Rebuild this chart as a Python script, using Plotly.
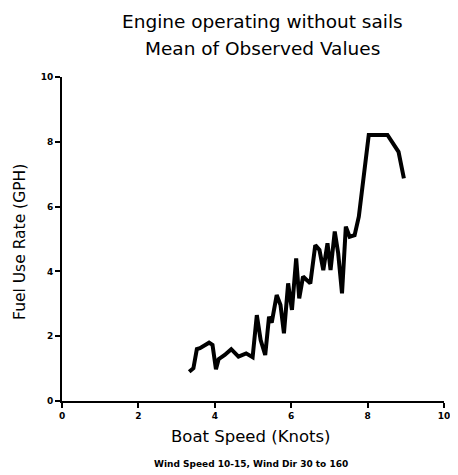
import plotly.graph_objects as go

boat_speed = [3.33, 3.44, 3.53, 3.61, 3.85, 3.94, 4.03, 4.10, 4.26, 4.43, 4.62, 4.82, 4.99,
              5.10, 5.20, 5.32, 5.42, 5.49, 5.62, 5.72, 5.81, 5.92, 5.98, 6.02, 6.13, 6.21,
              6.31, 6.50, 6.63, 6.74, 6.84, 6.95, 7.03, 7.14, 7.23, 7.33, 7.43, 7.53, 7.66,
              7.77, 8.03, 8.52, 8.81, 8.95]
fuel_rate = [0.90, 1.01, 1.60, 1.63, 1.80, 1.73, 0.98, 1.29, 1.42, 1.60, 1.37, 1.47, 1.35,
             2.65, 1.88, 1.42, 2.60, 2.42, 3.27, 2.96, 2.09, 3.63, 3.12, 2.81, 4.40, 3.17,
             3.84, 3.63, 4.81, 4.66, 4.04, 4.87, 4.04, 5.23, 4.56, 3.32, 5.38, 5.07, 5.12,
             5.69, 8.21, 8.21, 7.69, 6.87]
tick_vals = [0, 2, 4, 6, 8, 10]
tick_text = ["<b>0</b>", "<b>2</b>", "<b>4</b>", "<b>6</b>", "<b>8</b>", "<b>10</b>"]

font = "DejaVu Sans"

fig = go.Figure()
fig.add_trace(go.Scatter(x=boat_speed, y=fuel_rate, mode="lines",
                         line=dict(color="black", width=4), hoverinfo="skip"))

axis_common = dict(range=[0, 10], tickvals=tick_vals, ticktext=tick_text,
                   showgrid=False, zeroline=False, showline=True, linecolor="black",
                   linewidth=2, ticks="outside", ticklen=5, tickwidth=2, tickcolor="black",
                   tickfont=dict(size=9, family=font, color="black"), fixedrange=True,
                   ticklabeloverflow="allow", automargin=False)

fig.update_layout(
    width=442, height=467,
    margin=dict(l=54, r=6, t=69, b=74),
    paper_bgcolor="white", plot_bgcolor="white",
    showlegend=False,
    font=dict(family=font, color="black"),
    xaxis=axis_common,
    yaxis=axis_common,
    annotations=[
        dict(text="Engine operating without sails", xref="paper", yref="paper",
             x=0.524, y=1.170, xanchor="center", yanchor="middle", showarrow=False,
             font=dict(size=18.5, family=font, color="black")),
        dict(text="Mean of Observed Values", xref="paper", yref="paper",
             x=0.524, y=1.0895, xanchor="center", yanchor="middle", showarrow=False,
             font=dict(size=18.5, family=font, color="black")),
        dict(text="Boat Speed (Knots)", xref="paper", yref="paper",
             x=0.495, y=-0.111, xanchor="center", yanchor="middle", showarrow=False,
             font=dict(size=16.5, family=font, color="black")),
        dict(text="Fuel Use Rate (GPH)", xref="paper", yref="paper", textangle=-90,
             x=-0.110, y=0.491, xanchor="center", yanchor="middle", showarrow=False,
             font=dict(size=15.5, family=font, color="black")),
        dict(text="<b>Wind Speed 10-15, Wind Dir 30 to 160</b>",
             xref="paper", yref="paper", x=0.495, y=-0.194,
             xanchor="center", yanchor="middle", showarrow=False,
             font=dict(size=9, family=font, color="black")),
    ],
)

fig.write_html("out.html")
